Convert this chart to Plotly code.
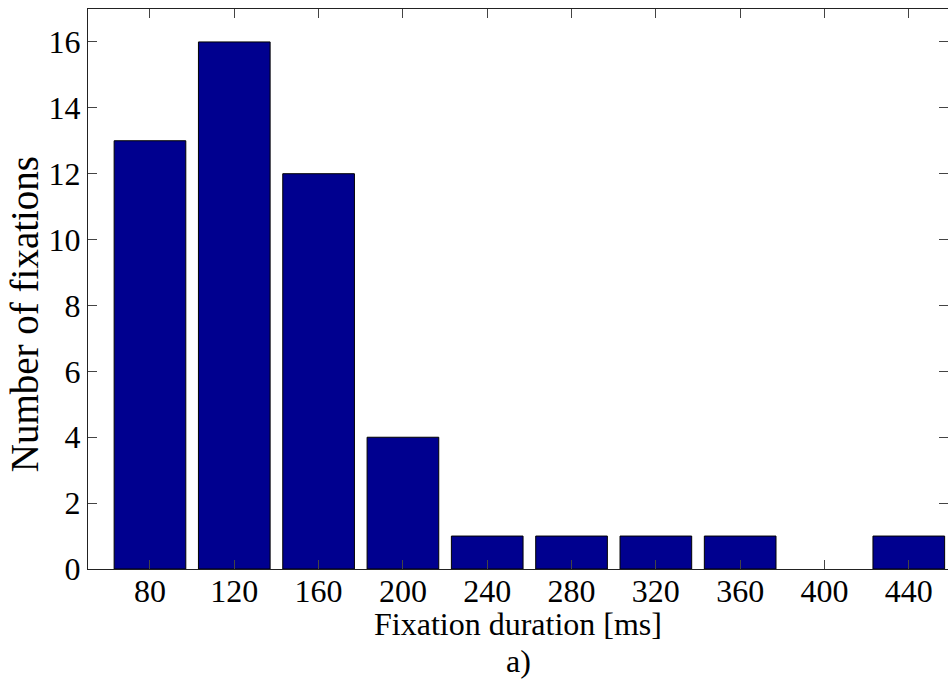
import plotly.graph_objects as go

# Fixation-duration histogram (bin centres in ms) and counts per bin
durations = [80, 120, 160, 200, 240, 280, 320, 360, 400, 440]
counts = [13, 16, 12, 4, 1, 1, 1, 1, 0, 1]
y_ticks = [0, 2, 4, 6, 8, 10, 12, 14, 16]

font_family = "Liberation Serif"
tick_font = dict(family=font_family, size=32, color="#000000")

fig = go.Figure(
    go.Bar(
        x=durations,
        y=counts,
        width=34,
        marker=dict(
            color="#00008F",
            # empty bins get no outline so nothing is drawn over the axis
            line=dict(color="#000000", width=[1 if c > 0 else 0 for c in counts]),
        ),
    )
)

fig.update_layout(
    width=948,
    height=681,
    margin=dict(l=88, r=0, t=9, b=112),
    plot_bgcolor="white",
    paper_bgcolor="white",
    showlegend=False,
    font=dict(family=font_family, size=32, color="#000000"),
    xaxis=dict(
        range=[50.6, 458.6],
        tickvals=durations,
        ticktext=[str(d) for d in durations],
        ticks="inside",
        ticklen=9,
        tickcolor="#444444",
        showline=True,
        linecolor="#222222",
        linewidth=1,
        mirror="ticks",
        showgrid=False,
        zeroline=False,
        tickfont=tick_font,
        ticklabelstandoff=-6,
    ),
    yaxis=dict(
        range=[0, 17],
        tickvals=y_ticks,
        ticks="inside",
        ticklen=9,
        tickcolor="#444444",
        showline=True,
        linecolor="#222222",
        linewidth=1,
        mirror="ticks",
        showgrid=False,
        zeroline=False,
        tickfont=tick_font,
    ),
    annotations=[
        dict(
            text="Fixation duration [ms]",
            xref="paper", yref="paper",
            x=0.5, y=-0.0974,
            xanchor="center", yanchor="middle",
            showarrow=False,
            font=tick_font,
        ),
        dict(
            text="Number of fixations",
            xref="paper", yref="paper",
            x=-0.0744, y=0.455,
            xanchor="center", yanchor="middle",
            textangle=-90,
            showarrow=False,
            font=dict(family=font_family, size=39, color="#000000"),
        ),
        dict(
            text="a)",
            xref="paper", yref="paper",
            x=0.5, y=-0.1635,
            xanchor="center", yanchor="middle",
            showarrow=False,
            font=tick_font,
        ),
    ],
)

fig.write_html("out.html")
